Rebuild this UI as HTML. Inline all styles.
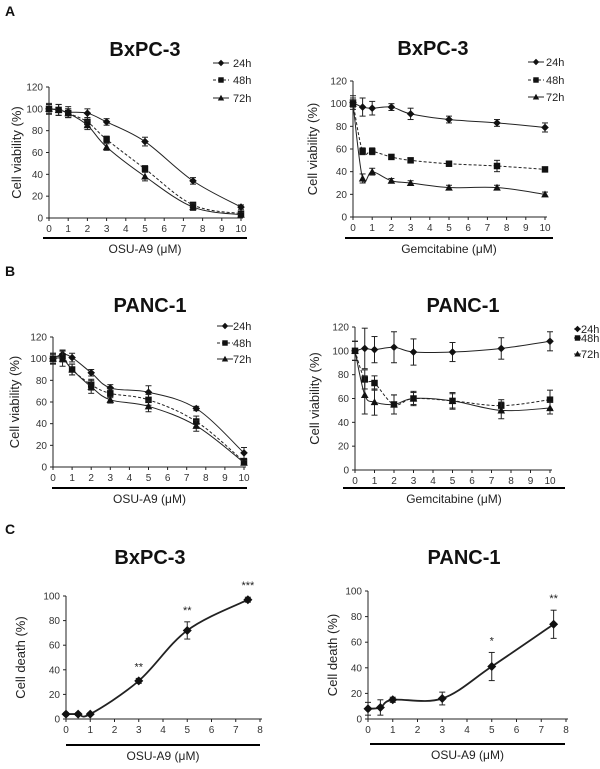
<!DOCTYPE html>
<html><head><meta charset="utf-8"><style>
html,body{margin:0;padding:0;background:#fff;}
svg{display:block;font-family:"Liberation Sans",Arial,sans-serif;}
</style></head><body>
<svg id="fig" width="600" height="769" viewBox="0 0 600 769"></svg>
<script>
const doseX = [0,0.5,1,2,3,5,7.5,10];
const doseTicks = [0,1,2,3,4,5,6,7,8,9,10];
const viabTicks = [0,20,40,60,80,100,120];
const seriesNames = ["24h","48h","72h"];
// A left BxPC-3 OSU-A9
const aL24 = [100,99,97,96,88,70,34,10], aL24e = [5,5,5,4,3,4,3,2];
const aL48 = [100,99,96,88,72,45,12,4], aL48e = [4,5,4,4,3,3,2,2];
const aL72 = [100,99,96,85,65,38,10,3], aL72e = [4,5,4,4,3,4,3,2];
// A right BxPC-3 Gemcitabine
const aR24 = [101,97,96,97,91,86,83,79], aR24e = [6,8,6,3,5,3,3,4];
const aR48 = [101,58,58,53,50,47,45,42], aR48e = [4,3,3,2,2,2,5,2];
const aR72 = [100,34,40,32,30,26,26,20], aR72e = [3,4,3,2,2,2,2,2];
// B left PANC-1 OSU-A9
const bL24 = [100,104,101,87,73,69,54,13], bL24e = [5,4,4,3,3,6,2,5];
const bL48 = [100,102,90,76,68,62,42,5], bL48e = [5,5,5,5,4,5,5,2];
const bL72 = [100,100,90,74,62,56,38,4], bL72e = [4,7,5,6,3,5,5,2];
// B right PANC-1 Gemcitabine
const bR24 = [100,102,101,103,99,99,102,108], bR24e = [8,17,11,13,11,8,9,8];
const bR48 = [100,76,73,55,60,58,54,59], bR48e = [8,8,6,8,5,6,5,8];
const bR72 = [100,63,57,55,60,58,50,52], bR72e = [8,16,11,8,6,7,7,5];
// C
const deathX = [0,0.5,1,3,5,7.5];
const deathTicksX = [0,1,2,3,4,5,6,7,8];
const deathTicksY = [0,20,40,60,80,100];
const cL = [4,4,4,31,72,97], cLe = [1,1,1,2,7,2], cLstars = ["","","","**","**","***"];
const cR = [8,9,15,16,41,74], cRe = [5,6,2,5,11,11], cRstars = ["","","","","*","**"];

const NS = "http://www.w3.org/2000/svg";
const svg = document.getElementById("fig");
function el(tag, attrs, parent, txt){
  const e = document.createElementNS(NS, tag);
  for (const k in attrs) e.setAttribute(k, attrs[k]);
  if (txt !== undefined) e.textContent = txt;
  (parent||svg).appendChild(e);
  return e;
}
function smoothPath(pts){
  let d = "M"+pts[0][0]+","+pts[0][1];
  for (let i=0;i<pts.length-1;i++){
    const p0=pts[Math.max(0,i-1)], p1=pts[i], p2=pts[i+1], p3=pts[Math.min(pts.length-1,i+2)];
    const t=0.17;
    const c1=[p1[0]+(p2[0]-p0[0])*t, p1[1]+(p2[1]-p0[1])*t];
    const c2=[p2[0]-(p3[0]-p1[0])*t, p2[1]-(p3[1]-p1[1])*t];
    d += " C"+c1[0]+","+c1[1]+" "+c2[0]+","+c2[1]+" "+p2[0]+","+p2[1];
  }
  return d;
}
function marker(g, shape, x, y, s){
  let m;
  if (shape==="diamond") m = el("polygon",{points:`${x},${y-s} ${x+s},${y} ${x},${y+s} ${x-s},${y}`,fill:"#111"},g);
  else if (shape==="square") m = el("rect",{x:x-s*0.85,y:y-s*0.85,width:s*1.7,height:s*1.7,fill:"#111"},g);
  else m = el("polygon",{points:`${x},${y-s} ${x+s},${y+s*0.8} ${x-s},${y+s*0.8}`,fill:"#111"},g);
  return m;
}
const shapes = ["diamond","square","triangle"];

function chart(cfg){
  const g = el("g",{});
  
  
  const sx = v => cfg.x0 + (v - cfg.xmin)/(cfg.xmax-cfg.xmin)*(cfg.x1-cfg.x0);
  const sy = v => cfg.y0 - (v - cfg.ymin)/(cfg.ymax-cfg.ymin)*(cfg.y0-cfg.y1);
  const ax = el("line",{x1:cfg.x0,y1:cfg.y0,x2:cfg.x1+2,y2:cfg.y0,stroke:"#222","stroke-width":1},g);
   
  const ay = el("line",{x1:cfg.x0,y1:cfg.y0,x2:cfg.x0,y2:cfg.y1,stroke:"#222","stroke-width":1},g);
   
  cfg.yt.forEach(v=>{
    el("line",{x1:cfg.x0-3,y1:sy(v),x2:cfg.x0,y2:sy(v),stroke:"#222"},g);
    const t = el("text",{x:cfg.x0-6,y:sy(v)+3.5,"font-size":10,"text-anchor":"end",fill:"#333"},g,String(v));
     
  });
  cfg.xt.forEach(v=>{
    el("line",{x1:sx(v),y1:cfg.y0,x2:sx(v),y2:cfg.y0+3,stroke:"#222"},g);
    const t = el("text",{x:sx(v),y:cfg.y0+14,"font-size":10,"text-anchor":"middle",fill:"#333"},g,String(v));
     
  });
  const ul = el("line",{x1:cfg.ul[0],y1:cfg.ul[2],x2:cfg.ul[1],y2:cfg.ul[2],stroke:"#000","stroke-width":2},g);
   
  const xl = el("text",{x:(cfg.ul[0]+cfg.ul[1])/2,y:cfg.ul[2]+15,"font-size":12,"text-anchor":"middle",fill:"#222"},g,cfg.xlabel);
   
  const yl = el("text",{x:0,y:0,"font-size":13,"text-anchor":"middle",fill:"#222",transform:`translate(${cfg.ylx},${(cfg.y0+cfg.y1)/2}) rotate(-90)`},g,cfg.ylabel);
   
  const tt = el("text",{x:cfg.title[1],y:cfg.title[2]+7,"font-size":20,"font-weight":"bold","text-anchor":"middle",fill:"#111"},g,cfg.title[0]);
   
  cfg.series.forEach((s,si)=>{
    const sg = el("g",{},g);
    
    
    const pts = cfg.xs.map((x,i)=>[sx(x),sy(s.v[i])]);
    const p = el("path",{d:smoothPath(pts),fill:"none",stroke:"#222","stroke-width":cfg.lw,"stroke-dasharray":si===1?"3,2":"none"},sg);
     
    cfg.xs.forEach((x,i)=>{
      const px=sx(x), y=s.v[i], e=s.e[i];
      el("line",{x1:px,y1:sy(y-e),x2:px,y2:sy(y+e),stroke:"#222"},sg);
      el("line",{x1:px-3,y1:sy(y-e),x2:px+3,y2:sy(y-e),stroke:"#222"},sg);
      el("line",{x1:px-3,y1:sy(y+e),x2:px+3,y2:sy(y+e),stroke:"#222"},sg);
      const m = marker(sg, s.shape, px, sy(y), cfg.ms);
       
      if (s.stars && s.stars[i]) {
        const st = el("text",{x:px,y:sy(y+e)-8,"font-size":11,"text-anchor":"middle",fill:"#222"},sg,s.stars[i]);
         
      }
    });
  });
  if (cfg.legend){
    const lg = el("g",{},g);
     
    const L = cfg.legend[3] || 16;
    seriesNames.forEach((n,i)=>{
      const y = cfg.legend[2][i];
      const le = el("g",{},lg);
       
      el("line",{x1:cfg.legend[0],y1:y,x2:cfg.legend[0]+L,y2:y,stroke:"#222","stroke-dasharray":i===1?"3,2":"none"},le);
      marker(le, shapes[i], cfg.legend[0]+L/2, y, 3.2);
      el("text",{x:cfg.legend[1],y:y+4,"font-size":11,fill:"#222"},le,n);
    });
  }
}
function three(a,ae,b,be,c,ce){
  return [{label:"24h",shape:"diamond",v:a,e:ae},{label:"48h",shape:"square",v:b,e:be},{label:"72h",shape:"triangle",v:c,e:ce}];
}
const base = {xmin:0,xmax:10,ymin:0,ymax:120,xs:doseX,xt:doseTicks,yt:viabTicks,lw:1,ms:3.8,ylabel:"Cell viability (%)"};
chart(Object.assign({},base,{name:"chart-a-bxpc3-osu",x0:49,x1:241,y0:218,y1:87,ul:[43,247,238],xlabel:"OSU-A9 (μM)",ylx:21,title:["BxPC-3",145,49],legend:[213,233,[63,80,98]],series:three(aL24,aL24e,aL48,aL48e,aL72,aL72e)}));
chart(Object.assign({},base,{name:"chart-a-bxpc3-gem",x0:353,x1:545,y0:217,y1:81,ul:[345,553,238],xlabel:"Gemcitabine (μM)",ylx:317,title:["BxPC-3",433,48],legend:[528,546,[62,80,97]],series:three(aR24,aR24e,aR48,aR48e,aR72,aR72e)}));
chart(Object.assign({},base,{name:"chart-b-panc1-osu",x0:53,x1:244,y0:467,y1:337,ul:[52,247,488],xlabel:"OSU-A9 (μM)",ylx:19,title:["PANC-1",150,305],legend:[217,233,[326,343,359]],series:three(bL24,bL24e,bL48,bL48e,bL72,bL72e)}));
chart(Object.assign({},base,{name:"chart-b-panc1-gem",x0:355,x1:550,y0:470,y1:327,ul:[343,565,488],xlabel:"Gemcitabine (μM)",ylx:319,title:["PANC-1",463,305],legend:[574,581,[329,338,354],7],series:three(bR24,bR24e,bR48,bR48e,bR72,bR72e)}));
const cbase = {xmin:0,xmax:8,ymin:0,ymax:100,xs:deathX,xt:deathTicksX,yt:deathTicksY,lw:1.8,ms:4.5,ylabel:"Cell death (%)",xlabel:"OSU-A9 (μM)"};
chart(Object.assign({},cbase,{name:"chart-c-bxpc3-death",x0:66,x1:260,y0:719,y1:596,ul:[66,260,745],ylx:25,title:["BxPC-3",150,557],series:[{label:"death",shape:"diamond",v:cL,e:cLe,stars:cLstars}]}));
chart(Object.assign({},cbase,{name:"chart-c-panc1-death",x0:368,x1:566,y0:719,y1:591,ul:[370,565,744],ylx:337,title:["PANC-1",464,557],series:[{label:"death",shape:"diamond",v:cR,e:cRe,stars:cRstars}]}));
[["A",5,16],["B",5,276],["C",5,534]].forEach(p=>{
  const t = el("text",{x:p[1],y:p[2],"font-size":14,"font-weight":"bold",fill:"#111"},svg,p[0]);
  
  
});
</script>
</body></html>
